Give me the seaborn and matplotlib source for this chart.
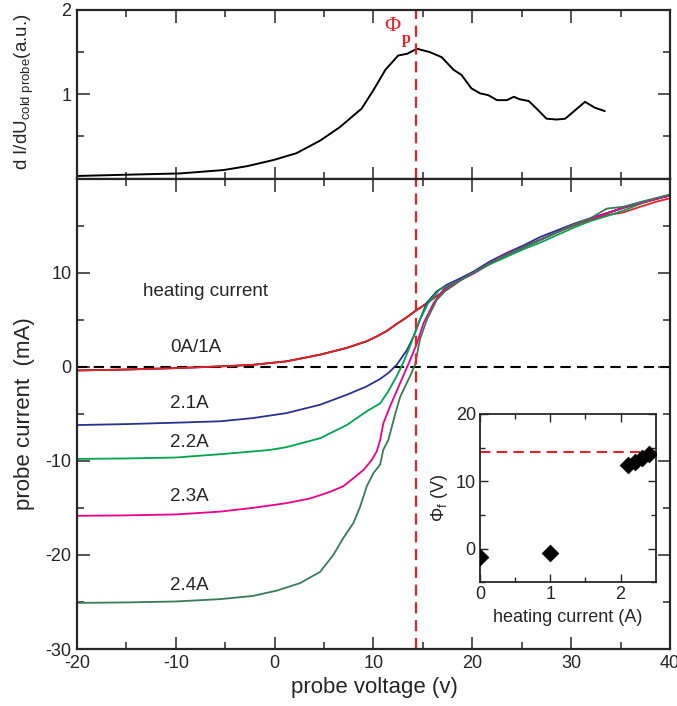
import numpy as np
import matplotlib.pyplot as plt
import seaborn as sns

sns.set_style("ticks")
plt.rcParams['font.family'] = ['Liberation Sans', 'DejaVu Sans']
plt.rcParams['mathtext.fontset'] = 'custom'
plt.rcParams['mathtext.rm'] = 'Liberation Sans'
plt.rcParams['mathtext.it'] = 'Liberation Sans:italic'
plt.rcParams['axes.unicode_minus'] = False

# top panel: derivative dI/dU of the cold probe
dv = [-20, -15, -9.6, -5.2, -2.8, -0.1, 2.2, 4.6, 6.6, 8.8, 10.0, 11.2, 12.5, 13.4, 14.4,
      15.7, 16.9, 18.1, 18.9, 19.9, 20.8, 21.6, 22.5, 23.5, 24.2, 24.8, 25.7, 26.5, 27.5,
      28.55, 29.4, 30.2, 31.4, 32.4, 33.4]
di = [0.03, 0.045, 0.06, 0.10, 0.146, 0.22, 0.30, 0.45, 0.61, 0.83, 1.05, 1.29, 1.46, 1.48, 1.54,
      1.50, 1.44, 1.29, 1.23, 1.07, 1.01, 0.99, 0.93, 0.93, 0.97, 0.94, 0.92, 0.83, 0.71,
      0.70, 0.71, 0.79, 0.91, 0.84, 0.80]

# bottom panel: I-V curves for each heating current
v_0a = [-20, -15, -10, -5.5, -2.2, 1.2, 4.6, 7.3, 9.3, 10.3, 11.35, 12.35, 13.3, 14.2, 15.2,
        16.1, 17.0, 18.0, 18.8, 20.1, 21.8, 23.5, 25.2, 26.9, 28.6, 30.3, 32.0, 33.6, 35.3,
        37.0, 38.5, 40.0]
i_0a_black = [-0.4, -0.3, -0.15, 0.03, 0.2, 0.57, 1.28, 2.0, 2.7, 3.2, 3.8, 4.55, 5.2, 5.9, 6.6,
              7.3, 7.9, 8.6, 9.2, 10.0, 11.0, 11.9, 12.7, 13.5, 14.3, 15.1, 15.7, 16.3, 16.9,
              17.4, 17.8, 18.2]
i_0a_red = [-0.4, -0.3, -0.15, 0.03, 0.2, 0.57, 1.28, 2.0, 2.7, 3.2, 3.8, 4.55, 5.2, 5.9, 6.6,
            7.3, 7.9, 8.6, 9.2, 10.0, 11.0, 11.9, 12.7, 13.5, 14.3, 15.0, 15.6, 16.1, 16.4,
            17.0, 17.5, 17.9]

v_21 = [-20, -15, -10, -5.5, -2.2, 1.2, 4.6, 7.3, 9.3, 10.67, 11.5, 12.35, 13.4, 14.05, 14.7,
        15.4, 16.4, 17.4, 18.8, 20.1, 21.8, 23.5, 25.2, 26.9, 28.6, 30.3, 32.0, 33.6, 35.3,
        37.0, 38.5, 40.0]
i_21 = [-6.2, -6.1, -5.95, -5.8, -5.46, -4.93, -4.04, -2.98, -2.1, -1.3, -0.67, 0.2, 1.8, 3.2,
        5.0, 6.8, 8.0, 8.7, 9.4, 10.1, 11.2, 12.1, 12.9, 13.8, 14.5, 15.2, 15.8, 16.3, 16.9,
        17.4, 17.8, 18.2]

v_22 = [-20, -15, -10, -5.5, -0.5, 1.2, 4.6, 7.3, 9.3, 10.67, 11.5, 12.35, 13.0, 13.7, 14.2,
        14.7, 15.55, 16.7, 18.8, 20.1, 21.8, 23.5, 25.2, 26.9, 28.6, 30.3, 32.0, 33.6, 35.3,
        37.0, 38.5, 40.0]
i_22 = [-9.8, -9.75, -9.65, -9.3, -8.85, -8.55, -7.6, -6.2, -4.75, -3.9, -2.6, -1.0, 0.4, 2.2,
        3.6, 5.0, 6.8, 8.2, 9.2, 9.9, 10.9, 11.7, 12.5, 13.2, 14.0, 14.8, 15.5, 16.0, 16.6,
        17.3, 17.8, 18.3]

v_23 = [-20, -15, -10, -5.5, -2.2, 1.2, 3.6, 5.6, 6.95, 7.97, 9.0, 9.83, 10.33, 10.67, 11.0,
        11.68, 13.0, 13.7, 14.4, 15.05, 16.1, 17.1, 18.8, 20.1, 21.8, 23.5, 25.2, 26.9, 28.6,
        30.3, 32.0, 33.6, 35.3, 37.0, 38.5, 40.0]
i_23 = [-15.85, -15.8, -15.7, -15.4, -15.0, -14.5, -14.0, -13.3, -12.7, -11.85, -10.96, -9.9,
        -9.0, -7.8, -6.0, -4.2, -1.0, 0.7, 2.5, 4.6, 6.8, 8.2, 9.2, 9.9, 11.0, 12.0, 12.7,
        13.5, 14.3, 15.1, 15.7, 16.3, 16.9, 17.4, 17.8, 18.2]

v_24 = [-20, -15, -10, -5.5, -2.2, 0.2, 2.57, 4.6, 5.94, 6.95, 7.97, 8.64, 9.32, 10.0, 10.67,
        11.0, 11.5, 12.2, 12.7, 13.7, 14.2, 14.7, 15.4, 16.4, 17.4, 18.8, 20.1, 21.8, 23.5,
        25.2, 26.9, 28.6, 30.3, 32.0, 33.6, 35.3, 37.0, 38.5, 40.0]
i_24 = [-25.1, -25.05, -24.95, -24.7, -24.36, -23.8, -23.0, -21.8, -20.0, -18.2, -16.6, -14.9,
        -12.7, -11.3, -10.4, -8.8, -7.8, -5.0, -3.2, -1.0, 0.2, 2.9, 5.0, 7.1, 8.2, 9.2, 10.0,
        11.0, 11.9, 12.7, 13.5, 14.3, 15.1, 15.8, 16.8, 17.0, 17.5, 17.9, 18.3]

curve_labels = ['0A/1A', '2.1A', '2.2A', '2.3A', '2.4A']
label_y = [2.0, -3.9, -8.1, -13.8, -23.3]

# inset: floating potential vs heating current
heat_i = [0, 1, 2.1, 2.2, 2.3, 2.4]
phi_f = [-1.3, -0.65, 12.4, 12.9, 13.4, 14.0]
phi_p = 14.3

W, H = 677, 706
fig = plt.figure(figsize=(W / 100, H / 100), dpi=100)
ax_top = fig.add_axes([77 / W, 1 - 178.5 / H, 593 / W, 168.5 / H])
ax = fig.add_axes([77 / W, 1 - 649 / H, 593 / W, 470.5 / H])
ax_in = fig.add_axes([480 / W, 1 - 582.3 / H, 175.7 / W, 168.3 / H])

red = '#e8202a'
dash = (0, (5, 3))

# top panel
sns.lineplot(x=dv, y=di, ax=ax_top, color='black', lw=1.4, estimator=None, sort=False)
ax_top.axvline(phi_p, color=red, lw=1.6, ls=dash)
ax_top.set_xlim(-20, 40)
ax_top.set_ylim(0, 2)
ax_top.set_yticks([1, 2])
ax_top.set_yticks([0.5, 1.5], minor=True)
ax_top.set_xticks(range(-20, 41, 10))
ax_top.set_xticks(range(-15, 40, 10), minor=True)
ax_top.tick_params(labelbottom=False)
ax_top.text(11.9, 1.80, 'Φ', color=red, fontsize=16, family='Liberation Serif',
            ha='center', va='center')
ax_top.text(13.35, 1.65, 'p', color=red, fontsize=11.5, family='Liberation Serif',
            fontweight='bold', ha='center', va='center')

# bottom panel
sns.lineplot(x=v_0a, y=i_0a_black, ax=ax, color='black', lw=1.3, estimator=None, sort=False)
sns.lineplot(x=v_0a, y=i_0a_red, ax=ax, color=red, lw=1.3, estimator=None, sort=False)
sns.lineplot(x=v_21, y=i_21, ax=ax, color='#2b3192', lw=1.3, estimator=None, sort=False)
sns.lineplot(x=v_22, y=i_22, ax=ax, color='#00a551', lw=1.3, estimator=None, sort=False)
sns.lineplot(x=v_23, y=i_23, ax=ax, color='#ec008c', lw=1.3, estimator=None, sort=False)
sns.lineplot(x=v_24, y=i_24, ax=ax, color='#3a7a5a', lw=1.3, estimator=None, sort=False)
ax.axhline(0, color='black', lw=1.5, ls=dash, zorder=1)
ax.axvline(phi_p, color=red, lw=1.6, ls=dash)
ax.set_xlim(-20, 40)
ax.set_ylim(-30, 20)
ax.set_xticks(range(-20, 41, 10))
ax.set_xticks(range(-15, 40, 10), minor=True)
ax.set_yticks([-30, -20, -10, 0, 10])
ax.set_yticks([-25, -15, -5, 5, 15], minor=True)
ax.text(-7.0, 8.0, 'heating current', fontsize=13.5, ha='center', va='center')
for lab, yy in zip(curve_labels, label_y):
    ax.text(-10.6, yy, lab, fontsize=13.5, ha='left', va='center')

for a in (ax_top, ax):
    a.tick_params(which='both', direction='in', top=True, right=True, width=1.1,
                  labelsize=13, pad=4)
    a.tick_params(which='major', length=9)
    a.tick_params(which='minor', length=5)
    for s in a.spines.values():
        s.set_linewidth(1.6)
    a.set_xlabel('')
    a.set_ylabel('')

# inset
sns.scatterplot(x=heat_i, y=phi_f, ax=ax_in, marker='D', s=70, color='black',
                edgecolor='black', zorder=3)
ax_in.axhline(phi_p, color=red, lw=1.5, ls=dash)
ax_in.set_xlim(0, 2.5)
ax_in.set_ylim(-5, 20)
ax_in.set_xticks([0, 1, 2])
ax_in.set_xticks([0.5, 1.5], minor=True)
ax_in.set_yticks([0, 10, 20])
ax_in.set_yticks([-5, 5, 15], minor=True)
ax_in.tick_params(which='both', direction='in', top=True, right=True, width=1.0,
                  labelsize=13, pad=3)
ax_in.tick_params(which='major', length=6)
ax_in.tick_params(which='minor', length=3.5)
for s in ax_in.spines.values():
    s.set_linewidth(1.3)
ax_in.set_xlabel('heating current (A)', fontsize=13, labelpad=4)
ax_in.set_ylabel(r'$\Phi_{\rm f}$ (V)', fontsize=13, labelpad=4)

fig.text(24 / W, 1 - 92 / H, r'd I/dU$_{\rm cold\ probe}$(a.u.)', rotation=90,
         fontsize=13.5, ha='center', va='center')
fig.text(25 / W, 1 - 414 / H, 'probe current  (mA)', rotation=90, fontsize=16,
         ha='center', va='center')
fig.text(374 / W, 1 - 687 / H, 'probe voltage (v)', fontsize=16, ha='center', va='center')

fig.savefig('out.png', dpi=100)
